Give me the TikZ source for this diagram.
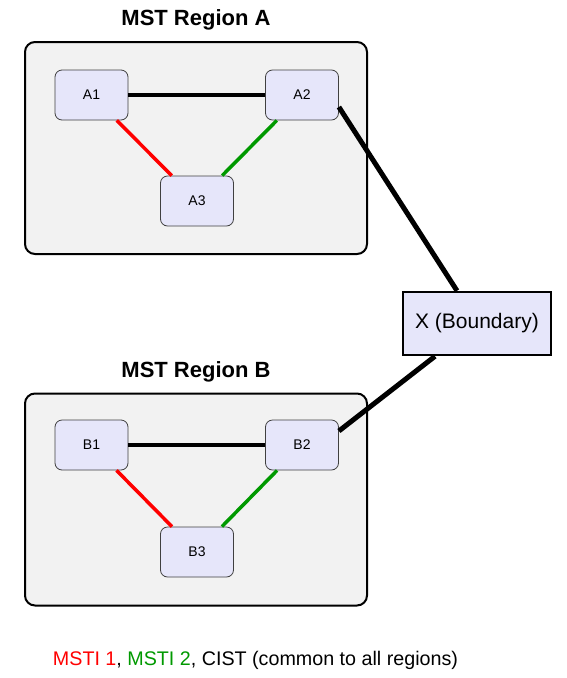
\documentclass[tikz,border=0pt]{standalone}
\usepackage{fontspec}
\setmainfont{Liberation Sans}
\definecolor{bridgefill}{RGB}{230,230,250}
\definecolor{regionfill}{RGB}{242,242,242}
\definecolor{mstired}{RGB}{255,0,0}
\definecolor{mstigreen}{RGB}{0,153,0}
\tikzset{
  region/.style={draw=black, line width=2pt, fill=regionfill, rounded corners=10pt,
    minimum width=342pt, minimum height=212pt},
  regtitle/.style={font=\fontsize{22}{26}\selectfont\bfseries},
  bridge/.style={draw=black!75, line width=0.8pt, fill=bridgefill, rounded corners=7pt,
    minimum width=73pt, minimum height=50pt, font=\fontsize{14}{16}\selectfont},
  cist/.style={line width=3.5pt, black},
  msti1/.style={line width=3.5pt, mstired},
  msti2/.style={line width=3.5pt, mstigreen},
  boundary/.style={line width=5pt, black}
}
\begin{document}
\begin{tikzpicture}[x=1pt,y=-1pt]
  \useasboundingbox (0,0) rectangle (567,678);
  % regions
  \node (regA) [region] at (196,148) {};
  \node (regB) [region] at (196,499.5) {};
  \node (titA) [regtitle] at (196,19.5) {MST Region A};
  \node (titB) [regtitle] at (196,372) {MST Region B};
  % bridges
  \draw
    (91.5,95) node[bridge] (A1){A1}
    (302,95) node[bridge] (A2){A2}
    (197,201) node[bridge] (A3){A3}
    (91.5,445) node[bridge] (B1){B1}
    (302,445) node[bridge] (B2){B2}
    (197,552) node[bridge] (B3){B3};
  \node (X) [draw=black, line width=2.5pt, fill=bridgefill, minimum width=148pt,
    minimum height=63pt, font=\fontsize{21}{25}\selectfont] at (477,323.5) {X (Boundary)};
  \begin{scope}[-]
    \draw[cist] (A1) to (A2);
    \draw[msti1] (A1) to (A3);
    \draw[msti2] (A2) to (A3);
    \draw[cist] (B1) to (B2);
    \draw[msti1] (B1) to (B3);
    \draw[msti2] (B2) to (B3);
    \draw[boundary] ([yshift=-12pt]A2.east) to ([xshift=-20pt]X.north);
    \draw[boundary] ([xshift=-42pt]X.south) to ([yshift=14pt]B2.east);
  \end{scope}
  % legend
  \node (legend) [font=\fontsize{19.7}{24}\selectfont] at (255.5,660)
    {\textcolor{mstired}{MSTI 1}, \textcolor{mstigreen}{MSTI 2}, CIST (common to all regions)};
\end{tikzpicture}
\end{document}
